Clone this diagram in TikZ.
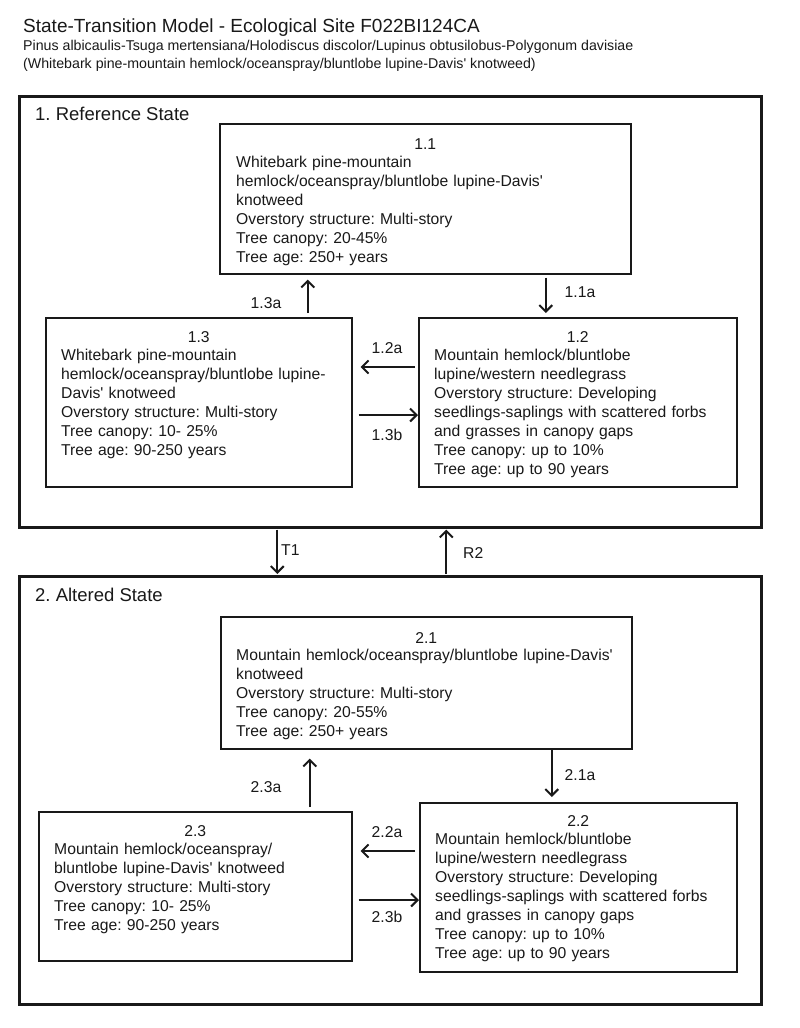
\documentclass[tikz,border=0pt]{standalone}
\usepackage{fontspec}
\setmainfont{Liberation Sans}
\newfontfamily\arialfont{Liberation Sans}
\usetikzlibrary{arrows.meta,calc}
\newcommand\bodyfont{\arialfont\fontsize{15.7pt}{19pt}\selectfont}
\newcommand\titlefont{\arialfont\fontsize{19pt}{22pt}\selectfont}
\newcommand\subfont{\arialfont\fontsize{14.2pt}{18pt}\selectfont}
\newcommand\statefont{\arialfont\fontsize{18.5pt}{22pt}\selectfont}
\colorlet{ink}{black!90}
\frenchspacing
\begin{document}
\frenchspacing
\begin{tikzpicture}[x=1pt,y=-1pt,
  statebox/.style={draw=ink, line width=2.6pt, anchor=north west, inner sep=0pt},
  phasebox/.style={draw=ink, line width=1.6pt, anchor=north west, inner sep=0pt},
  numtext/.style={anchor=base, inner sep=0pt, font=\bodyfont, text=ink},
  bodytext/.style={anchor=base west, inner sep=0pt, text width=380pt, align=left, font=\bodyfont, text=ink},
  lbl/.style={inner sep=0pt, font=\bodyfont, text=ink},
  headtext/.style={anchor=base west, inner sep=0pt, text=ink},
  arr/.style={draw=ink, line width=2pt, -{Straight Barb[length=6.5pt,width=13pt]}}]
\fill[white] (0,0) rectangle (800,1028);
\useasboundingbox (0,0) rectangle (800,1028);

% header
\node[headtext, font=\titlefont] (title) at (23,32) {State-Transition Model - Ecological Site F022BI124CA};
\node[headtext, font=\subfont] (sub1) at (23,50) {Pinus albicaulis-Tsuga mertensiana/Holodiscus discolor/Lupinus obtusilobus-Polygonum davisiae};
\node[headtext, font=\subfont] (sub2) at (23,68) {(Whitebark pine-mountain hemlock/oceanspray/bluntlobe lupine-Davis' knotweed)};

% state boxes
\node[statebox, minimum width=742pt, minimum height=431pt] (S1) at (18,95) {};
\node[statebox, minimum width=742pt, minimum height=428pt] (S2) at (18,575) {};
\node[headtext, font=\statefont] (S1lbl) at (35,120.5) {1. Reference State};
\node[headtext, font=\statefont] (S2lbl) at (35,601) {2. Altered State};

% community phase boxes, state 1
\node[phasebox, minimum width=411pt, minimum height=150pt] (b11) at (219,123) {};
\node[phasebox, minimum width=306pt, minimum height=169pt] (b13) at (45,317) {};
\node[phasebox, minimum width=318pt, minimum height=169pt] (b12) at (418,317) {};

\node[numtext] (n11) at ($(b11.north)+(0,26)$) {1.1};
\node[bodytext] (t11) at ($(b11.north west)+(17,44.3)$) {Whitebark pine-mountain\\hemlock/oceanspray/bluntlobe lupine-Davis'\\knotweed\\Overstory structure: Multi-story\\Tree canopy: 20-45\%\\Tree age: 250+ years};

\node[numtext] (n13) at ($(b13.north)+(0,25)$) {1.3};
\node[bodytext] (t13) at ($(b13.north west)+(16,43.6)$) {Whitebark pine-mountain\\hemlock/oceanspray/bluntlobe lupine-\\Davis' knotweed\\Overstory structure: Multi-story\\Tree canopy: 10- 25\%\\Tree age: 90-250 years};

\node[numtext] (n12) at ($(b12.north)+(0,25)$) {1.2};
\node[bodytext] (t12) at ($(b12.north west)+(16,43.6)$) {Mountain hemlock/bluntlobe\\lupine/western needlegrass\\Overstory structure: Developing\\seedlings-saplings with scattered forbs\\and grasses in canopy gaps\\Tree canopy: up to 10\%\\Tree age: up to 90 years};

% community phase boxes, state 2
\node[phasebox, minimum width=411pt, minimum height=132pt] (b21) at (220,616) {};
\node[phasebox, minimum width=313pt, minimum height=149pt] (b23) at (38,811) {};
\node[phasebox, minimum width=317pt, minimum height=169pt] (b22) at (419,802) {};

\node[numtext] (n21) at ($(b21.north)+(0,27)$) {2.1};
\node[bodytext] (t21) at ($(b21.north west)+(16,44.6)$) {Mountain hemlock/oceanspray/bluntlobe lupine-Davis'\\knotweed\\Overstory structure: Multi-story\\Tree canopy: 20-55\%\\Tree age: 250+ years};

\node[numtext] (n23) at ($(b23.north)+(0,25)$) {2.3};
\node[bodytext] (t23) at ($(b23.north west)+(16,43.6)$) {Mountain hemlock/oceanspray/\\bluntlobe lupine-Davis' knotweed\\Overstory structure: Multi-story\\Tree canopy: 10- 25\%\\Tree age: 90-250 years};

\node[numtext] (n22) at ($(b22.north)+(0,24)$) {2.2};
\node[bodytext] (t22) at ($(b22.north west)+(16,42.6)$) {Mountain hemlock/bluntlobe\\lupine/western needlegrass\\Overstory structure: Developing\\seedlings-saplings with scattered forbs\\and grasses in canopy gaps\\Tree canopy: up to 10\%\\Tree age: up to 90 years};

% transitions within state 1
\draw[arr, shorten <=4pt, shorten >=5pt] ([xshift=109pt]b13.north) -- ([xshift=109pt]b13.north |- b11.south);
\draw[arr, shorten <=3pt, shorten >=4pt] ([xshift=120.5pt]b11.south) -- ([xshift=120.5pt]b11.south |- b12.north);
\draw[arr, shorten <=3pt, shorten >=8pt] ([yshift=-50pt]b12.north west) -- ([yshift=-50pt]b12.north west -| b13.east);
\draw[arr, shorten <=6pt, shorten >=0pt] ([yshift=-98pt]b13.north east) -- ([yshift=-98pt]b13.north east -| b12.west);

% transitions between states
\draw[arr, shorten <=1pt, shorten >=1pt] ([xshift=-113pt]S1.south) -- ([xshift=-113pt]S1.south |- S2.north);
\draw[arr, shorten <=1pt, shorten >=1pt] ([xshift=56pt]S2.north) -- ([xshift=56pt]S2.north |- S1.south);

% transitions within state 2
\draw[arr, shorten <=4pt, shorten >=9pt] ([xshift=114.5pt]b23.north) -- ([xshift=114.5pt]b23.north |- b21.south);
\draw[arr, shorten <=0pt, shorten >=5pt] ([xshift=125.5pt]b21.south) -- ([xshift=125.5pt]b21.south |- b22.north);
\draw[arr, shorten <=4pt, shorten >=8pt] ([yshift=-49pt]b22.north west) -- ([yshift=-49pt]b22.north west -| b23.east);
\draw[arr, shorten <=6pt, shorten >=0pt] ([yshift=-89pt]b23.north east) -- ([yshift=-89pt]b23.north east -| b22.west);

% transition labels
\node[lbl] (l13a) at (266,303) {1.3a};
\node[lbl] (l11a) at (580,292) {1.1a};
\node[lbl] (l12a) at (387,348) {1.2a};
\node[lbl] (l13b) at (387,435) {1.3b};
\node[lbl, anchor=west] (lT1) at (281,550) {T1};
\node[lbl, anchor=west] (lR2) at (463,553) {R2};
\node[lbl] (l23a) at (266,787) {2.3a};
\node[lbl] (l21a) at (580,775) {2.1a};
\node[lbl] (l22a) at (387,832) {2.2a};
\node[lbl] (l23b) at (387,917) {2.3b};
\end{tikzpicture}
\end{document}
